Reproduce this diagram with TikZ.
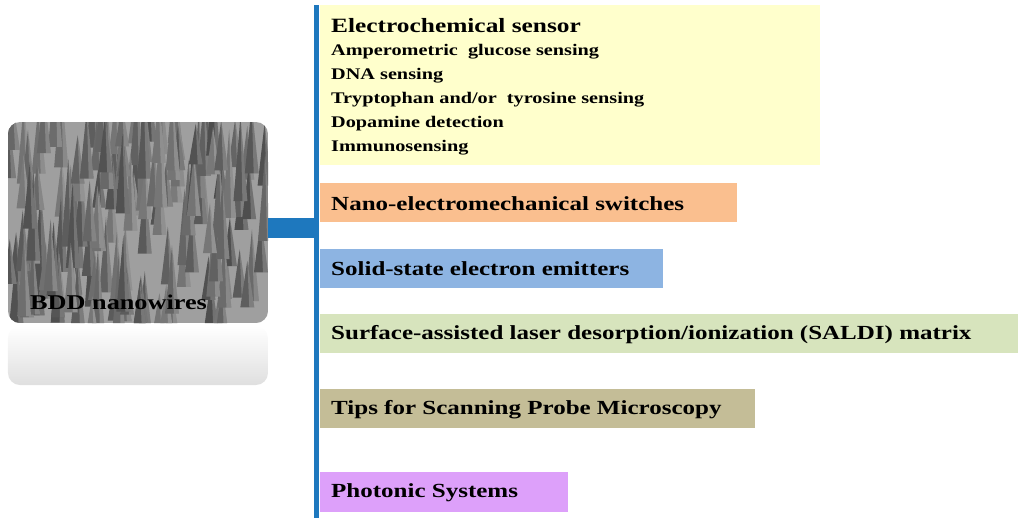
\documentclass[tikz,border=0pt]{standalone}
\usepackage{fontspec}
\setmainfont{Liberation Serif}
\newfontfamily\wide[FakeStretch=1.25]{Liberation Serif}
\usetikzlibrary{fadings}
\definecolor{cyel}{RGB}{255,255,204}
\definecolor{cora}{RGB}{250,191,143}
\definecolor{cblu}{RGB}{141,180,226}
\definecolor{cgre}{RGB}{215,228,189}
\definecolor{ctan}{RGB}{196,189,151}
\definecolor{cpur}{RGB}{221,160,250}
\definecolor{cline}{RGB}{30,120,190}
\tikzset{lbl/.style={anchor=west,font=\wide\bfseries\fontsize{20}{24}\selectfont,inner sep=0pt},
 sub/.style={anchor=west,font=\wide\bfseries\fontsize{16.2}{19}\selectfont,inner sep=0pt}}
\begin{document}
\begin{tikzpicture}[x=1pt,y=-1pt]
\useasboundingbox (0,0) rectangle (1024,525);
% image
\begin{scope}
\clip[rounded corners=12] (8,122) rectangle (268,323);
\fill[gray!75] (8,122) rectangle (268,323);
\pgfmathsetseed{7}
\foreach \i in {1,...,160}{
 \pgfmathsetmacro\xx{8+rnd*260}
 \pgfmathsetmacro\yy{140+rnd*200}
 \pgfmathsetmacro\hh{40+rnd*50}
 \pgfmathsetmacro\g{52+rnd*18}
 \fill[black!\g] (\xx-7,\yy) -- (\xx,\yy-\hh) -- (\xx+7,\yy) -- cycle;
 \fill[white,opacity=0.2] (\xx,\yy-\hh) -- (\xx+7,\yy) -- (\xx+2,\yy) -- cycle;
}
\end{scope}
\node[anchor=west,font=\wide\bfseries\fontsize{21}{24}\selectfont,inner sep=0pt] (img) at (30,302) {BDD nanowires};
\fill[gray!25,path fading=north,rounded corners=12] (8,326) rectangle (268,385);
% connectors
\coordinate (vt) at (316,5);
\coordinate (vb) at (316,518);
\fill[cline] (268,218) rectangle (314,238);
\draw[cline,line width=5] (vt) -- (vb);
% boxes
\fill[cyel] (320,5) rectangle (820,165);
\fill[cora] (320,183) rectangle (737,222);
\fill[cblu] (320,249) rectangle (663,288);
\fill[cgre] (320,314) rectangle (1018,353);
\fill[ctan] (320,389) rectangle (755,428);
\fill[cpur] (320,472) rectangle (568,512);
\node[anchor=west,font=\wide\bfseries\fontsize{20.3}{24}\selectfont,inner sep=0pt] (t1) at (331,26) {Electrochemical sensor};
\node[sub] (s1) at (331,52) {Amperometric\ \ glucose sensing};
\node[sub] (s2) at (331,76) {DNA sensing};
\node[sub] (s3) at (331,100) {Tryptophan and/or\ \ tyrosine sensing};
\node[sub] (s4) at (331,124) {Dopamine detection};
\node[sub] (s5) at (331,148) {Immunosensing};
\node[lbl] (t2) at (331,204) {Nano-electromechanical switches};
\node[lbl] (t3) at (331,269) {Solid-state electron emitters};
\node[lbl] (t4) at (331,335) {Surface-assisted laser desorption/ionization (SALDI) matrix};
\node[lbl] (t5) at (331,410) {Tips for Scanning Probe Microscopy};
\node[lbl] (t6) at (331,493) {Photonic Systems};
\end{tikzpicture}
\end{document}
